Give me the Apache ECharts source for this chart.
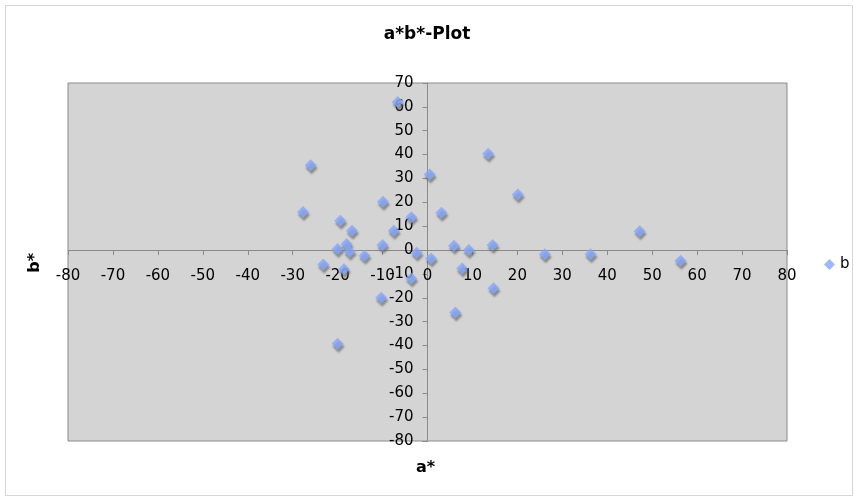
<!DOCTYPE html>
<html>
<head>
<meta charset="utf-8">
<script src="https://cdn.jsdelivr.net/npm/echarts@6/dist/echarts.min.js"></script>
<style>
  html, body { margin: 0; padding: 0; background: #fff; }
  #chart { width: 854px; height: 497px; }
</style>
</head>
<body>
<div id="chart"></div>
<script>
// a* / b* colour coordinates of the measured samples
const aValues = [-26, -27.7, -6.6, 0.5, -9.9, -19.4, -16.8, -3.6, -7.5, 3.1,
  -20, -18, -17.3, -14, -10, -2.4, 0.8, 5.9, 9.2,
  13.5, 20.1, 14.5, 26.1, 36.3, 47.2, 56.3, 7.7,
  -23.2, -18.6, -3.6, -10.3, 14.7, 6.2, -20];
const bValues = [35.5, 16, 62, 31.7, 20.2, 12.3, 8.1, 13.7, 8.1, 15.6,
  0.4, 2.5, -0.7, -2.4, 2.1, -1.1, -3.5, 1.8, 0,
  40.4, 23.3, 2.1, -1.8, -1.8, 7.9, -4.5, -7.7,
  -6, -8, -11.9, -20, -16, -26.2, -39.3];

const seriesName = 'b';
const chartTitle = 'a*b*-Plot';
const xAxisTitle = 'a*';
const yAxisTitle = 'b*';

const xRange = [-80, 80];
const yRange = [-80, 70];
const tickStep = 10;

const points = aValues.map((a, i) => [a, bValues[i]]);

// Plot rectangle inside the 854x497 canvas
const W = 854, H = 497;
const grid = { left: 68, right: 67, top: 83, bottom: 56 };
const plotW = W - grid.left - grid.right;
const plotH = H - grid.top - grid.bottom;

// Both axes cross at zero: shift each axis inward from its edge to the origin
const xAxisShift = -plotH * (0 - yRange[0]) / (yRange[1] - yRange[0]);
const yAxisShift = -plotW * (0 - xRange[0]) / (xRange[1] - xRange[0]);

const chart = echarts.init(document.getElementById('chart'));
const font = 'DejaVu Sans, Verdana, sans-serif';
const axisColor = '#8a8a8a';

chart.setOption({
  animation: false,
  backgroundColor: '#ffffff',
  title: {
    text: chartTitle,
    left: 'center',
    top: 21,
    textStyle: { fontFamily: font, fontSize: 17, fontWeight: 'bold', color: '#000' }
  },
  legend: {
    data: [{ name: seriesName, icon: 'diamond' }],
    orient: 'vertical',
    left: 819,
    top: 252,
    itemWidth: 11,
    itemHeight: 11,
    itemGap: 4,
    textStyle: { fontFamily: font, fontSize: 15, color: '#000' }
  },
  grid: Object.assign({
    show: true,
    backgroundColor: '#d4d4d4',
    borderColor: axisColor,
    borderWidth: 1
  }, grid),
  xAxis: {
    type: 'value',
    min: xRange[0],
    max: xRange[1],
    interval: tickStep,
    offset: xAxisShift,
    axisLine: { onZero: false, lineStyle: { color: axisColor, width: 1 } },
    axisTick: { show: true, inside: false, length: 5, lineStyle: { color: axisColor } },
    axisLabel: {
      showMinLabel: true, showMaxLabel: true, margin: 19,
      fontFamily: font, fontSize: 15, color: '#000'
    },
    splitLine: { show: false }
  },
  yAxis: {
    type: 'value',
    min: yRange[0],
    max: yRange[1],
    interval: tickStep,
    offset: yAxisShift,
    axisLine: { onZero: false, lineStyle: { color: axisColor, width: 1 } },
    axisTick: { show: true, inside: false, length: 5, lineStyle: { color: axisColor } },
    axisLabel: {
      showMinLabel: true, showMaxLabel: true, margin: 14,
      fontFamily: font, fontSize: 15, color: '#000'
    },
    splitLine: { show: false }
  },
  graphic: [
    {
      type: 'rect',
      left: 3, top: 3,
      shape: { width: 847, height: 490 },
      style: { fill: 'none', stroke: '#d6d6d6', lineWidth: 1 },
      silent: true
    },
    {
      type: 'text',
      left: 416, top: 460,
      style: { text: xAxisTitle, font: 'bold 16px ' + font, fill: '#000' }
    },
    {
      type: 'text',
      left: 27, top: 253,
      rotation: Math.PI / 2,
      style: { text: yAxisTitle, font: 'bold 16px ' + font, fill: '#000' }
    }
  ],
  series: [{
    name: seriesName,
    type: 'scatter',
    data: points,
    symbol: 'diamond',
    symbolSize: 12,
    itemStyle: {
      color: '#86a6fb',
      shadowColor: 'rgba(90,90,90,0.75)',
      shadowBlur: 2,
      shadowOffsetX: 1,
      shadowOffsetY: 3
    }
  }]
});
</script>
</body>
</html>
